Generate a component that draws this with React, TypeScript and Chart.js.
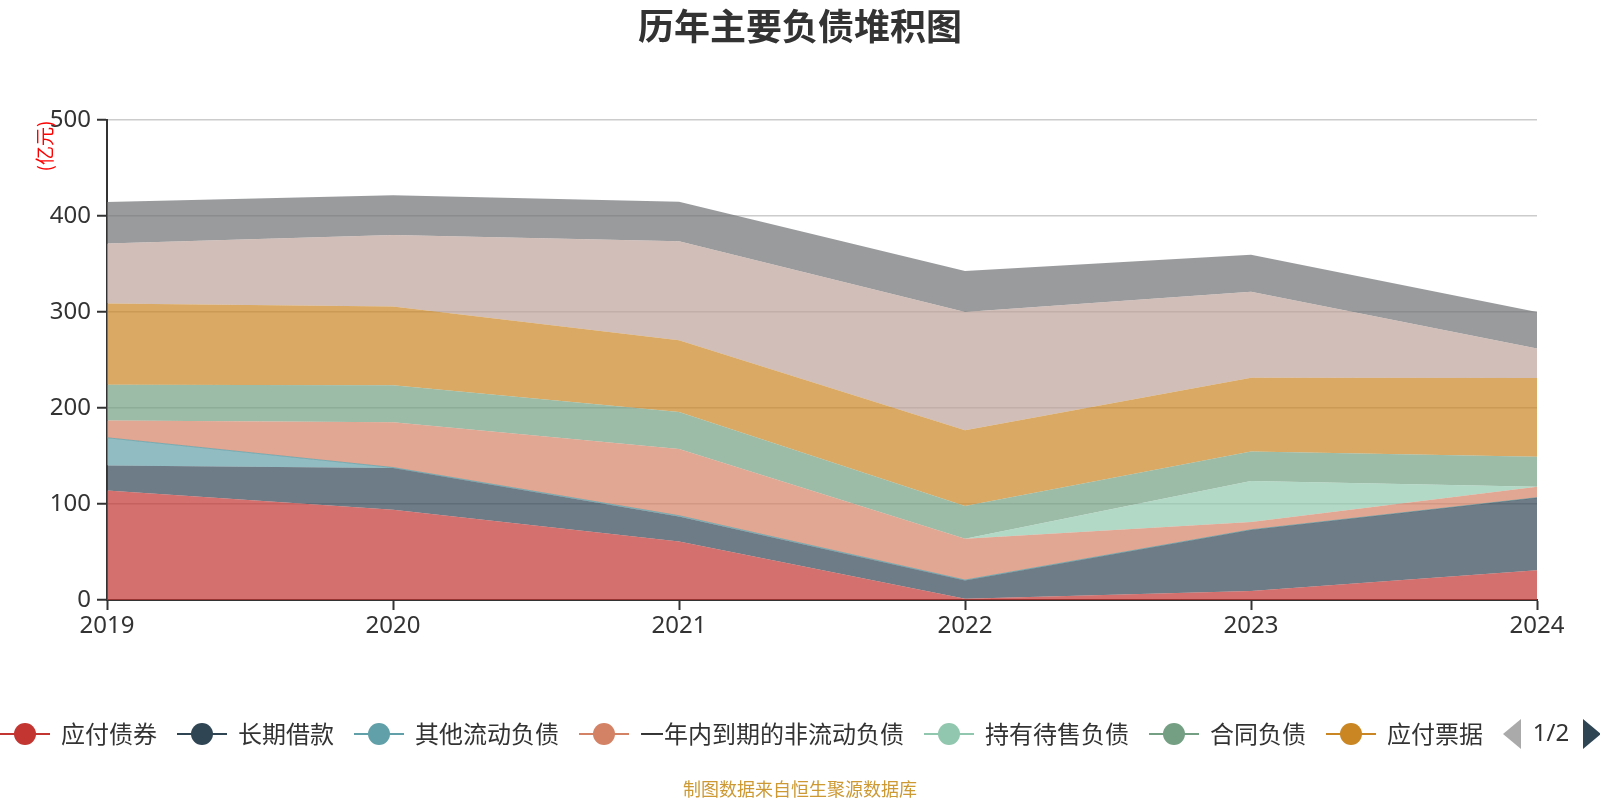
import React, { useEffect, useRef } from "react";
import { Chart, registerables } from "chart.js";

Chart.register(...registerables);

// ---- data (亿元) ----
const years = ["2019", "2020", "2021", "2022", "2023", "2024"];
const bondsPayable = [114.0, 94.1, 61.0, 1.4, 9.4, 30.9];
const longTermLoans = [26.1, 43.4, 26.1, 19.0, 63.5, 75.7];
const otherCurrentLiab = [28.9, 0.5, 0.7, 0.4, 0.3, 0];
const currentPortionNCL = [18.1, 47.1, 69.5, 43.1, 8.1, 11.4];
const heldForSaleLiab = [0, 0, 0, 0, 42.7, 0];
const contractLiab = [37.2, 38.6, 38.6, 34.0, 30.7, 31.2];
const notesPayable = [84.5, 82.0, 74.7, 78.8, 76.8, 82.0];
const accountsPayable = [62.6, 74.4, 103.2, 123.3, 89.5, 30.9];
const otherPayables = [43.1, 41.4, 41.0, 42.7, 38.6, 37.8];

const seriesNames = [
  "应付债券",
  "长期借款",
  "其他流动负债",
  "一年内到期的非流动负债",
  "持有待售负债",
  "合同负债",
  "应付票据",
  "应付账款",
  "其他应付款",
];
const seriesValues = [
  bondsPayable,
  longTermLoans,
  otherCurrentLiab,
  currentPortionNCL,
  heldForSaleLiab,
  contractLiab,
  notesPayable,
  accountsPayable,
  otherPayables,
];
const seriesColors = [
  "#c23531",
  "#2f4554",
  "#61a0a8",
  "#d48265",
  "#91c7ae",
  "#749f83",
  "#ca8622",
  "#bda29a",
  "#6e7074",
];
const yTicks = [0, 100, 200, 300, 400, 500];
const legendVisibleCount = 7;

const FONT = "'Noto Sans', 'Noto Sans CJK SC', sans-serif";
const CJK = "'Noto Sans CJK SC', 'Noto Sans', sans-serif";

function hexA(hex: string, a: number) {
  const n = parseInt(hex.slice(1), 16);
  return `rgba(${(n >> 16) & 255},${(n >> 8) & 255},${n & 255},${a})`;
}

const decorPlugin = {
  id: "decor",
  afterDraw(chart: any) {
    const ctx = chart.ctx as CanvasRenderingContext2D;
    ctx.save();
    // title
    ctx.fillStyle = "#333";
    ctx.font = `bold 36px ${CJK}`;
    ctx.textAlign = "center";
    ctx.textBaseline = "middle";
    ctx.fillText("历年主要负债堆积图", 800, 26);

    // y axis name
    ctx.save();
    ctx.translate(45, 146);
    ctx.rotate(-Math.PI / 2);
    ctx.fillStyle = "#ff0000";
    ctx.font = `19px ${CJK}`;
    ctx.textAlign = "center";
    ctx.textBaseline = "middle";
    ctx.fillText("(亿元)", 0, 0);
    ctx.restore();

    // legend
    const ly = 734;
    let x = 0;
    ctx.font = `24px ${CJK}`;
    ctx.textAlign = "left";
    ctx.textBaseline = "middle";
    for (let i = 0; i < legendVisibleCount; i++) {
      const c = seriesColors[i];
      ctx.strokeStyle = c;
      ctx.lineWidth = 2;
      ctx.beginPath();
      ctx.moveTo(x, ly);
      ctx.lineTo(x + 50, ly);
      ctx.stroke();
      ctx.fillStyle = c;
      ctx.beginPath();
      ctx.arc(x + 25, ly, 11, 0, Math.PI * 2);
      ctx.fill();
      ctx.fillStyle = "#333";
      const tx = x + 61;
      ctx.fillText(seriesNames[i], tx, ly);
      const w = ctx.measureText(seriesNames[i]).width;
      x = tx + w + 20;
    }
    // pager
    const px = x;
    ctx.fillStyle = "#aaaaaa";
    ctx.beginPath();
    ctx.moveTo(px + 18, ly - 15);
    ctx.lineTo(px + 18, ly + 15);
    ctx.lineTo(px, ly);
    ctx.closePath();
    ctx.fill();
    ctx.fillStyle = "#333";
    ctx.font = `24px ${FONT}`;
    ctx.textAlign = "center";
    ctx.fillText("1/2", px + 48, ly);
    ctx.fillStyle = "#2f4554";
    ctx.beginPath();
    ctx.moveTo(px + 80, ly - 15);
    ctx.lineTo(px + 80, ly + 15);
    ctx.lineTo(px + 98, ly);
    ctx.closePath();
    ctx.fill();

    // source
    ctx.fillStyle = "#cc9933";
    ctx.font = `18px ${CJK}`;
    ctx.textAlign = "center";
    ctx.fillText("制图数据来自恒生聚源数据库", 800, 789);
    ctx.restore();
  },
};

export default function App() {
  const ref = useRef<HTMLCanvasElement | null>(null);
  useEffect(() => {
    if (!ref.current) return;
    const datasets = seriesValues.map((vals, i) => ({
      label: seriesNames[i],
      data: vals,
      backgroundColor: hexA(seriesColors[i], 0.7),
      borderColor: hexA(seriesColors[i], 0.7),
      borderWidth: i === 2 ? 1 : 0,
      pointRadius: 0,
      pointHoverRadius: 0,
      tension: 0,
      fill: i === 0 ? "origin" : "-1",
    }));
    const chart = new Chart(ref.current, {
      type: "line",
      data: { labels: years, datasets },
      options: {
        responsive: false,
        animation: false,
        devicePixelRatio: 1,
        layout: { padding: { top: 120, right: 63, left: 0, bottom: 0 } },
        plugins: {
          legend: { display: false },
          title: { display: false },
          tooltip: { enabled: false },
        },
        scales: {
          x: {
            type: "category",
            offset: false,
            afterFit: (s: any) => {
              s.height = 200;
            },
            grid: {
              display: true,
              drawOnChartArea: false,
              drawTicks: true,
              tickLength: 10,
              tickColor: "#333",
              tickWidth: 2,
            },
            border: { display: true, color: "#333", width: 2 },
            ticks: {
              color: "#333",
              font: { size: 24, family: FONT },
              padding: 2,
              maxRotation: 0,
            },
          },
          y: {
            stacked: true,
            min: 0,
            max: 500,
            afterFit: (s: any) => {
              s.width = 107;
            },
            afterBuildTicks: (s: any) => {
              s.ticks = yTicks.map((v) => ({ value: v }));
            },
            grid: {
              color: (c: any) => (c.tick && c.tick.value === 0 ? "rgba(0,0,0,0)" : "#cccccc"),
              lineWidth: 1.5,
              tickLength: 10,
              tickColor: "#333",
              tickWidth: 2,
            },
            border: { display: true, color: "#333", width: 2 },
            ticks: {
              color: "#333",
              font: { size: 24, family: FONT },
              padding: 6,
            },
          },
        },
      },
      plugins: [decorPlugin],
    });
    return () => chart.destroy();
  }, []);
  return (
    <div style={{ position: "fixed", left: 0, top: 0, width: 1600, height: 800, background: "#fff" }}>
      <canvas ref={ref} width={1600} height={800} style={{ width: 1600, height: 800, display: "block" }} />
    </div>
  );
}
